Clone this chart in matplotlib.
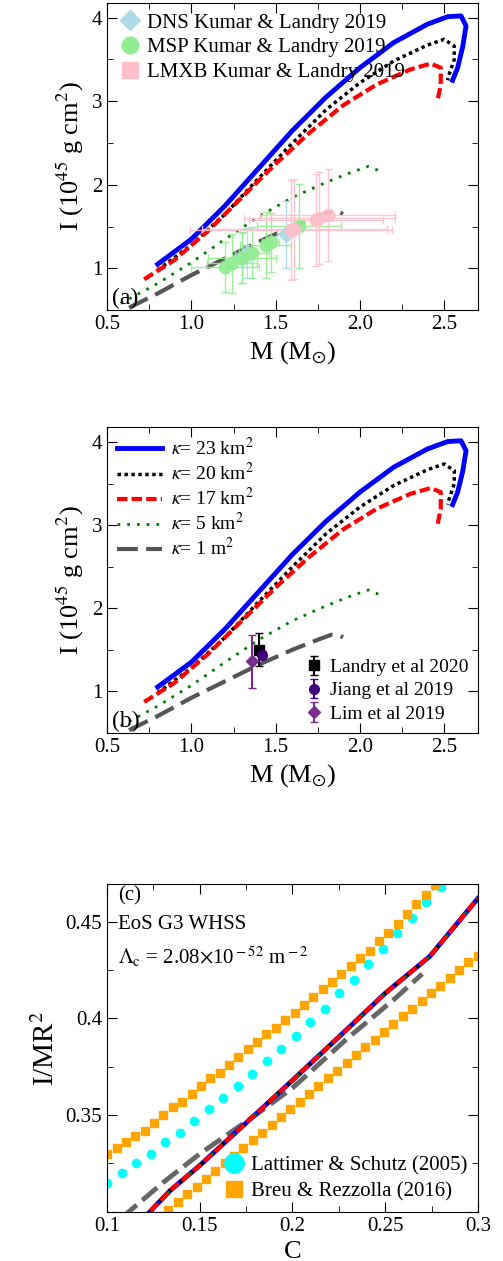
import numpy as np
import matplotlib
matplotlib.use("Agg")
import matplotlib.pyplot as plt
from matplotlib.ticker import MultipleLocator, FormatStrFormatter, FuncFormatter
from matplotlib.legend import Legend

plt.rcParams['font.family'] = ['Liberation Serif', 'DejaVu Serif']
plt.rcParams['mathtext.fontset'] = 'stix'
plt.rcParams['font.size'] = 15

# I(M) curves, M in Msun, I in 1e45 g cm^2
m_23 = [0.8, 1.0, 1.2, 1.4, 1.6, 1.8, 2.0, 2.2, 2.4, 2.52, 2.6, 2.63, 2.61, 2.58, 2.55]
i_23 = [1.05, 1.35, 1.75, 2.2, 2.65, 3.05, 3.4, 3.7, 3.92, 4.01, 4.02, 3.9, 3.65, 3.4, 3.25]
m_20 = [0.8, 1.0, 1.2, 1.4, 1.6, 1.8, 2.0, 2.2, 2.4, 2.5, 2.56, 2.56, 2.53, 2.52]
i_20 = [0.98, 1.28, 1.65, 2.08, 2.5, 2.9, 3.22, 3.48, 3.67, 3.74, 3.66, 3.5, 3.32, 3.25]
m_17 = [0.72, 0.9, 1.1, 1.3, 1.5, 1.7, 1.9, 2.1, 2.3, 2.42, 2.48, 2.48, 2.46]
i_17 = [0.87, 1.1, 1.45, 1.85, 2.25, 2.62, 2.95, 3.2, 3.38, 3.45, 3.4, 3.2, 3.0]
m_5 = [0.58, 0.8, 1.0, 1.2, 1.4, 1.6, 1.8, 1.95, 2.05, 2.1, 2.12]
i_5 = [0.58, 0.82, 1.07, 1.35, 1.62, 1.85, 2.03, 2.15, 2.22, 2.18, 2.13]
m_1 = [0.63, 0.8, 1.0, 1.2, 1.4, 1.6, 1.75, 1.83, 1.88, 1.9]
i_1 = [0.53, 0.7, 0.92, 1.12, 1.32, 1.5, 1.62, 1.68, 1.67, 1.65]

# Kumar & Landry 2019
dns_m = [1.33, 1.30, 1.56]
dns_i = [1.18, 1.12, 1.41]
dns_xe = [0.05, 0.05, 0.05]
dns_ye = [0.3, 0.3, 0.4]
msp_m = [1.20, 1.24, 1.30, 1.36, 1.44, 1.47, 1.64]
msp_i = [1.02, 1.06, 1.13, 1.19, 1.28, 1.31, 1.51]
msp_xe = [0.2, 0.15, 0.2, 0.1, 0.15, 0.05, 0.25]
msp_ye = [0.3, 0.35, 0.3, 0.3, 0.4, 0.35, 0.5]
lmxb_m = [1.59, 1.61, 1.74, 1.76, 1.81]
lmxb_i = [1.46, 1.47, 1.58, 1.60, 1.64]
lmxb_xe = [0.6, 0.55, 0.4, 0.45, 0.4]
lmxb_ye = [0.6, 0.6, 0.55, 0.55, 0.55]

# panel (c): I/MR^2 vs C
c_main = [0.118, 0.134, 0.15, 0.183, 0.2, 0.229, 0.25, 0.274, 0.3]
y_main = [0.295, 0.311, 0.324, 0.353, 0.368, 0.394, 0.413, 0.432, 0.462]
c_gray = [0.108, 0.13, 0.15, 0.18, 0.2, 0.23, 0.255, 0.27]
y_gray = [0.297, 0.315, 0.330, 0.350, 0.364, 0.390, 0.410, 0.423]
cyan_y = [0.315, 0.320, 0.325, 0.330, 0.336, 0.341, 0.347, 0.353, 0.359, 0.365, 0.371, 0.378,
          0.384, 0.391, 0.398, 0.405, 0.413, 0.420, 0.428, 0.436, 0.444, 0.452, 0.460, 0.468]
orange_up = [0.330, 0.333, 0.336, 0.339, 0.342, 0.346, 0.350, 0.354, 0.357, 0.361, 0.365, 0.369,
             0.372, 0.376, 0.380, 0.384, 0.388, 0.392, 0.395, 0.399, 0.403, 0.407, 0.411, 0.415,
             0.419, 0.423, 0.427, 0.431, 0.435, 0.440, 0.444, 0.449, 0.454, 0.459, 0.464, 0.469]
orange_lo = [0.298, 0.301, 0.305, 0.309, 0.313, 0.317, 0.321, 0.325, 0.329, 0.333, 0.337, 0.341,
             0.345, 0.349, 0.353, 0.357, 0.361, 0.365, 0.369, 0.373, 0.377, 0.381, 0.385, 0.389,
             0.393, 0.397, 0.401, 0.405, 0.409, 0.413, 0.417, 0.421, 0.425, 0.429, 0.432]

fig = plt.figure(figsize=(5.03, 12.61), dpi=100)
L, W = 0.213, 0.737
axa = fig.add_axes([L, 0.754, W, 0.244])
axb = fig.add_axes([L, 0.419, W, 0.242])
axc = fig.add_axes([L, 0.039, W, 0.260])


def curves(ax, labels=False):
    ax.plot(m_23, i_23, color='blue', lw=3.5, label=r'$\kappa$= 23 km$^2$' if labels else None)
    ax.plot(m_20, i_20, color='black', lw=2.5, ls=(0, (1, 1)), label=r'$\kappa$= 20 km$^2$' if labels else None)
    ax.plot(m_17, i_17, color='red', lw=3, ls=(0, (2.5, 1)), label=r'$\kappa$= 17 km$^2$' if labels else None)
    ax.plot(m_5, i_5, color='green', lw=2, ls=(0, (1, 2.5)), label=r'$\kappa$= 5 km$^2$' if labels else None)
    ax.plot(m_1, i_1, color='#555555', lw=3, ls=(0, (5, 2)), label=r'$\kappa$= 1 m$^2$' if labels else None)


def style(ax):
    ax.tick_params(which='both', direction='in', top=True, right=True, labelsize=15)
    ax.tick_params(which='major', length=7)
    ax.tick_params(which='minor', length=4)


for ax in (axa, axb):
    curves(ax, labels=(ax is axb))
    ax.set_xlim(0.5, 2.7)
    ax.set_ylim(0.5, 4.18)
    ax.xaxis.set_major_locator(MultipleLocator(0.5))
    ax.xaxis.set_minor_locator(MultipleLocator(0.25))
    ax.yaxis.set_major_locator(MultipleLocator(1))
    ax.yaxis.set_minor_locator(MultipleLocator(0.5))
    ax.set_xlabel(r'M (M$_{\odot}$)', fontsize=19)
    ax.set_ylabel(r'I (10$^{45}$ g cm$^2$)', fontsize=19)
    style(ax)
    ax.xaxis.set_major_formatter(FormatStrFormatter('%.1f'))

ek = dict(ls='none', elinewidth=1, capsize=3, alpha=0.9)
axa.errorbar(dns_m, dns_i, xerr=dns_xe, yerr=dns_ye, color='lightblue', marker='D', ms=8, **ek)
axa.errorbar(msp_m, msp_i, xerr=msp_xe, yerr=msp_ye, color='lightgreen', marker='o', ms=9, **ek)
axa.errorbar(lmxb_m, lmxb_i, xerr=lmxb_xe, yerr=lmxb_ye, color='pink', marker='o', ms=9, **ek)
proxies = [plt.Line2D([], [], ls='none', marker='D', color='lightblue', ms=10),
           plt.Line2D([], [], ls='none', marker='o', color='lightgreen', ms=12),
           plt.Line2D([], [], ls='none', marker='s', color='pink', ms=12)]
axa.legend(proxies, ['DNS Kumar & Landry 2019', 'MSP Kumar & Landry 2019', 'LMXB Kumar & Landry 2019'],
           loc='upper left', frameon=False, fontsize=15, handletextpad=0.2,
           borderaxespad=0.1, labelspacing=0.25, handlelength=1.2)
axa.text(0.53, 0.57, '(a)', fontsize=17)

axb.legend(loc='upper left', frameon=False, fontsize=14, handlelength=2.3, borderaxespad=0.1,
           labelspacing=0.15, handletextpad=0.5)
pl = axb.errorbar([1.4], [1.5], yerr=[0.2], color='black', marker='s', ms=7, ls='none', capsize=3)
pj = axb.errorbar([1.42], [1.44], yerr=[0.05], color='#3f007d', marker='o', ms=7, ls='none', capsize=3)
pm = axb.errorbar([1.36], [1.36], yerr=[0.32], color='#7b2d8e', marker='D', ms=6, ls='none', capsize=3)
lg = Legend(axb, [pl, pj, pm], ['Landry et al 2020', 'Jiang et al 2019', 'Lim et al 2019'],
            loc='lower right', frameon=False, fontsize=14, handletextpad=0.2, labelspacing=0.3,
            borderaxespad=0.1, handlelength=1.2)
axb.add_artist(lg)
axb.text(0.53, 0.57, '(b)', fontsize=17)

# panel (c)
axc.plot(np.linspace(0.1, 0.28, len(cyan_y)), cyan_y, 'o', color='cyan', ms=6, ls='none', zorder=2)
axc.plot(np.linspace(0.1, 0.277, len(orange_up)), orange_up, 's', color='orange', ms=6, ls='none', zorder=2)
axc.plot(np.linspace(0.128, 0.3, len(orange_lo)), orange_lo, 's', color='orange', ms=6, ls='none', zorder=2)
axc.plot(c_gray, y_gray, color='#666666', lw=3.5, ls=(0, (4, 1.5)), zorder=3)
axc.plot(c_main, y_main, color='blue', lw=3.5, zorder=3)
axc.plot(c_main, y_main, color='black', lw=2.5, ls=(0, (1, 1)), zorder=4)
axc.plot(c_main, y_main, color='green', lw=2, ls=(0, (1, 2.5)), zorder=4)
axc.plot(c_main, y_main, color='red', lw=3, ls=(0, (2.5, 1)), zorder=5)
pc = plt.Line2D([], [], ls='none', marker='o', color='cyan', ms=14)
po = plt.Line2D([], [], ls='none', marker='s', color='orange', ms=12)
axc.legend([pc, po], ['Lattimer & Schutz (2005)', 'Breu & Rezzolla (2016)'], loc='lower right',
           frameon=False, fontsize=15, handletextpad=0.2, borderaxespad=0.1, labelspacing=0.3,
           handlelength=1.2)
axc.text(0.106, 0.461, '(c)', fontsize=15)
axc.text(0.106, 0.446, 'EoS G3 WHSS', fontsize=15)
axc.text(0.106, 0.428, r'$\Lambda_{\rm c}$ = 2.08$\times$10$^{\rm -52}$ m$^{\rm -2}$', fontsize=15)
axc.set_xlim(0.1, 0.3)
axc.set_ylim(0.3, 0.4695)
axc.xaxis.set_major_locator(MultipleLocator(0.05))
axc.xaxis.set_minor_locator(MultipleLocator(0.025))
axc.yaxis.set_major_locator(MultipleLocator(0.05))
axc.yaxis.set_minor_locator(MultipleLocator(0.025))
axc.xaxis.set_major_formatter(FuncFormatter(lambda v, p: '%g' % round(v, 3)))
axc.yaxis.set_major_formatter(FuncFormatter(lambda v, p: '' if v < 0.32 else '%g' % round(v, 3)))
axc.set_xlabel('C', fontsize=19)
axc.set_ylabel(r'I/MR$^2$', fontsize=21)
style(axc)

fig.savefig('out.png', dpi=100)
